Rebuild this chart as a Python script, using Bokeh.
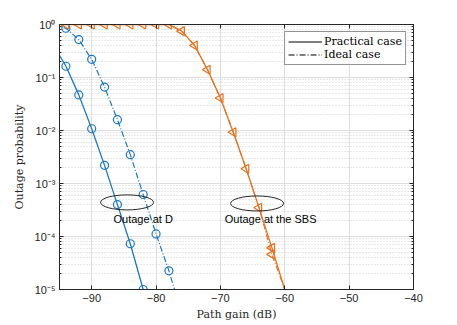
import numpy as np
from bokeh.plotting import figure
from bokeh.models import (LogAxis, LinearAxis, FixedTicker, CustomJSTickFormatter,
                          Legend, LegendItem, Label, Range1d)
from bokeh.embed import file_html
from bokeh.resources import INLINE

# ---- data ----
gain_d_prac = [-96, -94, -92, -90, -88, -86, -84, -82, -80]
out_d_prac = [0.42, 0.163, 0.047, 0.0108, 0.0022, 4.0e-4, 7.3e-5, 1.0e-5, 1.2e-6]

gain_d_ideal = [-96, -94, -92, -90, -88, -86, -84, -82, -80, -78, -76]
out_d_ideal = [1.0, 0.85, 0.52, 0.22, 0.066, 0.016, 0.0035, 6.2e-4, 1.12e-4, 2.25e-5, 3.5e-6]

gain_sbs = [-96, -94, -92, -90, -88, -86, -84, -82, -80, -78, -76, -74, -72, -70,
            -68, -66, -64, -62, -60, -58]
out_sbs_prac = [1.0, 1.0, 1.0, 1.0, 1.0, 1.0, 1.0, 1.0, 1.0, 1.0, 0.75, 0.40, 0.14,
                0.041, 0.0093, 0.0019, 3.5e-4, 6.1e-5, 1.0e-5, 1.4e-6]
out_sbs_ideal = [1.0, 1.0, 1.0, 1.0, 1.0, 1.0, 1.0, 1.0, 1.0, 1.0, 0.75, 0.40, 0.14,
                 0.041, 0.0093, 0.0019, 3.5e-4, 4.6e-5, 1.0e-5, 1.4e-6]

x_ticks = [-90, -80, -70, -60, -50, -40]
y_exps = [0, -1, -2, -3, -4, -5]
legend_labels = ["Practical case", "Ideal case"]

BLUE = "#1A78C2"
ORANGE = "#E8731F"
AX = "#262626"
SANS = "Liberation Sans"
SERIF = "DejaVu Serif"

p = figure(width=457, height=325, output_backend="svg", toolbar_location=None,
           x_axis_type="linear", y_axis_type="log",
           x_range=Range1d(-95, -40), y_range=Range1d(1e-5, 1.0),
           min_border_left=59, min_border_right=44, min_border_top=24,
           min_border_bottom=36, background_fill_color="white",
           border_fill_color="white")
p.outline_line_color = AX
p.outline_line_width = 1

major_y = [10.0 ** e for e in y_exps]
minor_y = [k * 10.0 ** e for e in range(-5, 0) for k in range(2, 10)]
yticker = FixedTicker(ticks=major_y, minor_ticks=minor_y)
xticker = FixedTicker(ticks=x_ticks)

ylab = CustomJSTickFormatter(code="""
const sup = {'-':'\\u207B','0':'\\u2070','1':'\\u00B9','2':'\\u00B2','3':'\\u00B3','4':'\\u2074','5':'\\u2075'};
const e = Math.round(Math.log10(tick)).toString();
return '10' + e.split('').map(c => sup[c]).join('');
""")
blank = CustomJSTickFormatter(code="return '';")

xa = p.xaxis[0]
xa.ticker = xticker
xa.axis_label = "Path gain (dB)"
ya = p.yaxis[0]
ya.ticker = yticker
ya.formatter = ylab
ya.axis_label = "Outage probability"

for ax in (xa, ya):
    ax.axis_line_color = AX
    ax.major_tick_line_color = AX
    ax.minor_tick_line_color = AX
    ax.major_tick_in = 4
    ax.major_tick_out = 0
    ax.minor_tick_in = 2
    ax.minor_tick_out = 0
    ax.major_label_text_font = SANS
    ax.major_label_text_font_size = "11px"
    ax.major_label_text_color = AX
    ax.axis_label_text_font = SERIF
    ax.axis_label_text_font_size = "11px"
    ax.axis_label_text_font_style = "normal"
    ax.axis_label_text_color = AX
    ax.major_label_standoff = 4
    ax.axis_label_standoff = 3
xa.minor_tick_line_color = None
ya.axis_label_standoff = 6

top = LinearAxis(ticker=xticker, formatter=blank,
                 axis_line_color=AX, major_tick_line_color=AX,
                 major_tick_in=4, major_tick_out=0, minor_tick_line_color=None,
                 major_label_standoff=0)
right = LogAxis(ticker=yticker, formatter=blank,
                axis_line_color=AX, major_tick_line_color=AX, minor_tick_line_color=AX,
                major_tick_in=4, major_tick_out=0, minor_tick_in=2, minor_tick_out=0,
                major_label_standoff=0)
p.add_layout(top, "above")
p.add_layout(right, "right")

p.xgrid.ticker = xticker
p.ygrid.ticker = yticker
p.xgrid.grid_line_color = "#DFDFDF"
p.ygrid.grid_line_color = "#DFDFDF"
p.ygrid.minor_grid_line_color = "#D0D0D0"
p.ygrid.minor_grid_line_dash = "1 2"
p.ygrid.minor_grid_line_width = 1

# ---- curves ----
p.line(gain_d_prac, out_d_prac, color=BLUE, line_width=1.3)
p.scatter(gain_d_prac[1:8], out_d_prac[1:8], marker="circle", size=8,
          line_color=BLUE, fill_color=None, line_width=1.2)

p.line(gain_d_ideal, out_d_ideal, color=BLUE, line_width=1.2, line_dash="6 2 1 2")
p.scatter(gain_d_ideal[1:10], out_d_ideal[1:10], marker="circle", size=8,
          line_color=BLUE, fill_color=None, line_width=1.2)

p.line(gain_sbs, out_sbs_ideal, color=ORANGE, line_width=1.2, line_dash="6 2 1 2")
p.line(gain_sbs, out_sbs_prac, color=ORANGE, line_width=1.3)
p.scatter(gain_sbs[1:18], out_sbs_prac[1:18], marker="triangle", angle=np.pi / 2,
          size=9, line_color=ORANGE, fill_color=None, line_width=1.2)
p.scatter(gain_sbs[17:18], out_sbs_ideal[17:18], marker="triangle", angle=np.pi / 2,
          size=9, line_color=ORANGE, fill_color=None, line_width=1.2)

# ---- ellipses + annotations ----
p.ellipse(x=[-84.5, -64.3], y=[4.4e-4, 4.2e-4], width=53, height=15,
          width_units="screen", height_units="screen",
          fill_color=None, line_color=AX, line_width=1)
p.add_layout(Label(x=-82.0, y=2.1e-4, text="Outage at D", text_align="center",
                   text_baseline="middle", text_font=SANS, text_font_size="11px",
                   text_color="black"))
p.add_layout(Label(x=-62.2, y=2.1e-4, text="Outage at the SBS", text_align="center",
                   text_baseline="middle", text_font=SANS, text_font_size="11px",
                   text_color="black"))

# ---- legend (black key lines) ----
r1 = p.line(x=[-60.0], y=[1e-3], color="black", line_width=1.2)
r2 = p.line(x=[-60.0], y=[1e-3], color="black", line_width=1.2, line_dash="6 2 1 2")
leg = Legend(items=[LegendItem(label=legend_labels[0], renderers=[r1]),
                    LegendItem(label=legend_labels[1], renderers=[r2])],
             location="top_right")
leg.label_text_font = SERIF
leg.label_text_font_size = "11px"
leg.label_text_color = "black"
leg.border_line_color = AX
leg.border_line_width = 1
leg.background_fill_alpha = 1
leg.glyph_width = 34
leg.glyph_height = 13
leg.label_height = 13
leg.spacing = 0
leg.padding = 3
leg.margin = 7
leg.label_standoff = 2
p.add_layout(leg)

open("out.html", "w").write(file_html(p, INLINE))
